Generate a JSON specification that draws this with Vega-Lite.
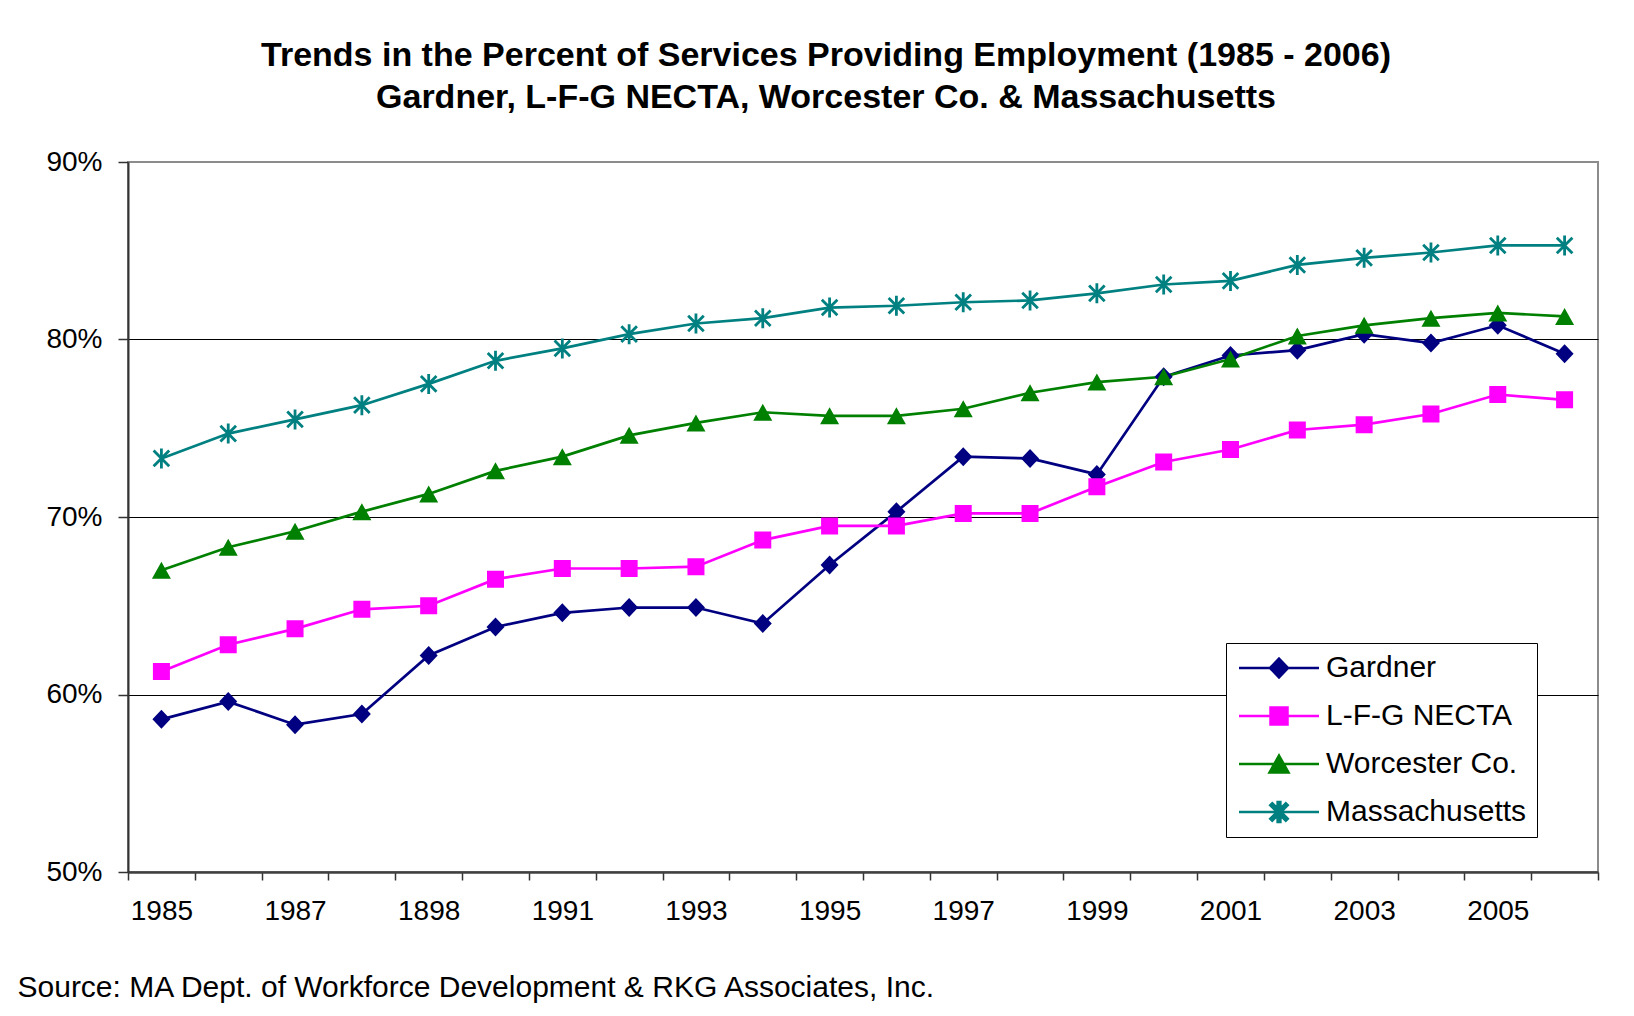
{
  "$schema": "https://vega.github.io/schema/vega-lite/v6.json",
  "autosize": "none",
  "width": 1470,
  "height": 710,
  "padding": {"left": 128, "top": 162, "right": 36, "bottom": 144},
  "background": "white",
  "config": {
    "font": "Liberation Sans",
    "view": {"stroke": "#8c8c8c", "strokeWidth": 2}
  },
  "title": {
    "text": ["Trends in the Percent of Services Providing Employment (1985 - 2006)", "Gardner, L-F-G NECTA, Worcester Co. & Massachusetts"],
    "font": "Liberation Sans",
    "fontSize": 34,
    "fontWeight": "bold",
    "color": "black",
    "lineHeight": 42,
    "anchor": "middle",
    "frame": "group",
    "dx": -37,
    "offset": 33
  },
  "data": {"values": [
    {"year":"1985","series":"Gardner","value":0.586},
    {"year":"1986","series":"Gardner","value":0.596},
    {"year":"1987","series":"Gardner","value":0.583},
    {"year":"1988","series":"Gardner","value":0.589},
    {"year":"1989","series":"Gardner","value":0.622},
    {"year":"1990","series":"Gardner","value":0.638},
    {"year":"1991","series":"Gardner","value":0.646},
    {"year":"1992","series":"Gardner","value":0.649},
    {"year":"1993","series":"Gardner","value":0.649},
    {"year":"1994","series":"Gardner","value":0.640},
    {"year":"1995","series":"Gardner","value":0.673},
    {"year":"1996","series":"Gardner","value":0.703},
    {"year":"1997","series":"Gardner","value":0.734},
    {"year":"1998","series":"Gardner","value":0.733},
    {"year":"1999","series":"Gardner","value":0.724},
    {"year":"2000","series":"Gardner","value":0.779},
    {"year":"2001","series":"Gardner","value":0.791},
    {"year":"2002","series":"Gardner","value":0.794},
    {"year":"2003","series":"Gardner","value":0.803},
    {"year":"2004","series":"Gardner","value":0.798},
    {"year":"2005","series":"Gardner","value":0.808},
    {"year":"2006","series":"Gardner","value":0.792},
    {"year":"1985","series":"L-F-G NECTA","value":0.613},
    {"year":"1986","series":"L-F-G NECTA","value":0.628},
    {"year":"1987","series":"L-F-G NECTA","value":0.637},
    {"year":"1988","series":"L-F-G NECTA","value":0.648},
    {"year":"1989","series":"L-F-G NECTA","value":0.650},
    {"year":"1990","series":"L-F-G NECTA","value":0.665},
    {"year":"1991","series":"L-F-G NECTA","value":0.671},
    {"year":"1992","series":"L-F-G NECTA","value":0.671},
    {"year":"1993","series":"L-F-G NECTA","value":0.672},
    {"year":"1994","series":"L-F-G NECTA","value":0.687},
    {"year":"1995","series":"L-F-G NECTA","value":0.695},
    {"year":"1996","series":"L-F-G NECTA","value":0.695},
    {"year":"1997","series":"L-F-G NECTA","value":0.702},
    {"year":"1998","series":"L-F-G NECTA","value":0.702},
    {"year":"1999","series":"L-F-G NECTA","value":0.717},
    {"year":"2000","series":"L-F-G NECTA","value":0.731},
    {"year":"2001","series":"L-F-G NECTA","value":0.738},
    {"year":"2002","series":"L-F-G NECTA","value":0.749},
    {"year":"2003","series":"L-F-G NECTA","value":0.752},
    {"year":"2004","series":"L-F-G NECTA","value":0.758},
    {"year":"2005","series":"L-F-G NECTA","value":0.769},
    {"year":"2006","series":"L-F-G NECTA","value":0.766},
    {"year":"1985","series":"Worcester Co.","value":0.670},
    {"year":"1986","series":"Worcester Co.","value":0.683},
    {"year":"1987","series":"Worcester Co.","value":0.692},
    {"year":"1988","series":"Worcester Co.","value":0.703},
    {"year":"1989","series":"Worcester Co.","value":0.713},
    {"year":"1990","series":"Worcester Co.","value":0.726},
    {"year":"1991","series":"Worcester Co.","value":0.734},
    {"year":"1992","series":"Worcester Co.","value":0.746},
    {"year":"1993","series":"Worcester Co.","value":0.753},
    {"year":"1994","series":"Worcester Co.","value":0.759},
    {"year":"1995","series":"Worcester Co.","value":0.757},
    {"year":"1996","series":"Worcester Co.","value":0.757},
    {"year":"1997","series":"Worcester Co.","value":0.761},
    {"year":"1998","series":"Worcester Co.","value":0.770},
    {"year":"1999","series":"Worcester Co.","value":0.776},
    {"year":"2000","series":"Worcester Co.","value":0.779},
    {"year":"2001","series":"Worcester Co.","value":0.789},
    {"year":"2002","series":"Worcester Co.","value":0.802},
    {"year":"2003","series":"Worcester Co.","value":0.808},
    {"year":"2004","series":"Worcester Co.","value":0.812},
    {"year":"2005","series":"Worcester Co.","value":0.815},
    {"year":"2006","series":"Worcester Co.","value":0.813},
    {"year":"1985","series":"Massachusetts","value":0.733},
    {"year":"1986","series":"Massachusetts","value":0.747},
    {"year":"1987","series":"Massachusetts","value":0.755},
    {"year":"1988","series":"Massachusetts","value":0.763},
    {"year":"1989","series":"Massachusetts","value":0.775},
    {"year":"1990","series":"Massachusetts","value":0.788},
    {"year":"1991","series":"Massachusetts","value":0.795},
    {"year":"1992","series":"Massachusetts","value":0.803},
    {"year":"1993","series":"Massachusetts","value":0.809},
    {"year":"1994","series":"Massachusetts","value":0.812},
    {"year":"1995","series":"Massachusetts","value":0.818},
    {"year":"1996","series":"Massachusetts","value":0.819},
    {"year":"1997","series":"Massachusetts","value":0.821},
    {"year":"1998","series":"Massachusetts","value":0.822},
    {"year":"1999","series":"Massachusetts","value":0.826},
    {"year":"2000","series":"Massachusetts","value":0.831},
    {"year":"2001","series":"Massachusetts","value":0.833},
    {"year":"2002","series":"Massachusetts","value":0.842},
    {"year":"2003","series":"Massachusetts","value":0.846},
    {"year":"2004","series":"Massachusetts","value":0.849},
    {"year":"2005","series":"Massachusetts","value":0.853},
    {"year":"2006","series":"Massachusetts","value":0.853}
  ]},
  "encoding": {
    "x": {
      "field": "year",
      "type": "ordinal",
      "bandPosition": 0.5,
      "scale": {"type": "band", "paddingInner": 0, "paddingOuter": 0},
      "axis": {
        "tickBand": "extent",
        "labelAngle": 0,
        "labelExpr": "toNumber(datum.value) % 2 == 1 ? (datum.value == '1989' ? '1898' : datum.value) : ''",
        "labelFont": "Liberation Sans",
        "labelFontSize": 28,
        "labelColor": "black",
        "labelPadding": 17,
        "labelOverlap": false,
        "tickSize": 8,
        "tickColor": "#333333",
        "tickWidth": 1.5,
        "domainColor": "#404040",
        "domainWidth": 2.5,
        "grid": false,
        "title": "Source: MA Dept. of Workforce Development & RKG Associates, Inc.",
        "titleFont": "Liberation Sans",
        "titleFontSize": 30,
        "titleFontWeight": "normal",
        "titleColor": "black",
        "titleAlign": "left",
        "titleAnchor": "start",
        "titleBaseline": "alphabetic",
        "titleX": -111,
        "titleY": 124
      }
    },
    "y": {
      "field": "value",
      "type": "quantitative",
      "scale": {"domain": [0.5, 0.9], "nice": false, "zero": false},
      "axis": {
        "values": [0.5, 0.6, 0.7, 0.8, 0.9],
        "format": ".0%",
        "title": null,
        "labelFont": "Liberation Sans",
        "labelFontSize": 28,
        "labelColor": "black",
        "labelPadding": 16,
        "tickSize": 10,
        "tickColor": "#333333",
        "tickWidth": 1.5,
        "domainColor": "#333333",
        "domainWidth": 2,
        "grid": true,
        "gridColor": {"condition": {"test": "datum.value >= 0.89 || datum.value <= 0.51", "value": "transparent"}, "value": "black"},
        "gridWidth": 1.2
      }
    },
    "color": {
      "field": "series",
      "type": "nominal",
      "sort": ["Gardner", "L-F-G NECTA", "Worcester Co.", "Massachusetts"],
      "scale": {
        "domain": ["Gardner", "L-F-G NECTA", "Worcester Co.", "Massachusetts"],
        "range": ["#000080", "#FF00FF", "#008000", "#008080"]
      },
      "legend": {
        "title": null,
        "orient": "none",
        "legendX": 1098,
        "legendY": 481,
        "padding": 10,
        "strokeColor": "black",
        "fillColor": "white",
        "labelFont": "Liberation Sans",
        "labelFontSize": 30,
        "labelColor": "black",
        "labelLimit": 400,
        "symbolSize": 400,
        "symbolOffset": 28,
        "labelOffset": 32,
        "symbolStrokeWidth": 2.5,
        "rowPadding": 18
      }
    },
    "shape": {
      "field": "series",
      "type": "nominal",
      "sort": ["Gardner", "L-F-G NECTA", "Worcester Co.", "Massachusetts"],
      "scale": {
        "domain": ["Gardner", "L-F-G NECTA", "Worcester Co.", "Massachusetts"],
        "range": [
          "M0,-0.95L0.9,0L0,0.95L-0.9,0Z M-4,0H4",
          "M-0.85,-0.85H0.85V0.85H-0.85Z M-4,0H4",
          "M0,-0.85L0.95,0.85H-0.95Z M-4,0H4",
          "M-0.14,-1H0.14V1H-0.14Z M-0.68,-0.88L0.88,0.68L0.68,0.88L-0.88,-0.68Z M0.88,-0.68L-0.68,0.88L-0.88,0.68L0.68,-0.88Z M-4,0H4"
        ]
      },
      "legend": {
        "title": null,
        "orient": "none",
        "legendX": 1098,
        "legendY": 481,
        "padding": 10,
        "strokeColor": "black",
        "fillColor": "white",
        "labelFont": "Liberation Sans",
        "labelFontSize": 30,
        "labelColor": "black",
        "labelLimit": 400,
        "symbolSize": 400,
        "symbolOffset": 28,
        "labelOffset": 32,
        "symbolStrokeWidth": 2.5,
        "rowPadding": 18
      }
    }
  },
  "layer": [
    {
      "mark": {"type": "line", "strokeWidth": 2.7},
      "encoding": {"shape": null}
    },
    {
      "mark": {"type": "point", "filled": true, "size": 400, "opacity": 1, "strokeWidth": 0}
    }
  ]
}
